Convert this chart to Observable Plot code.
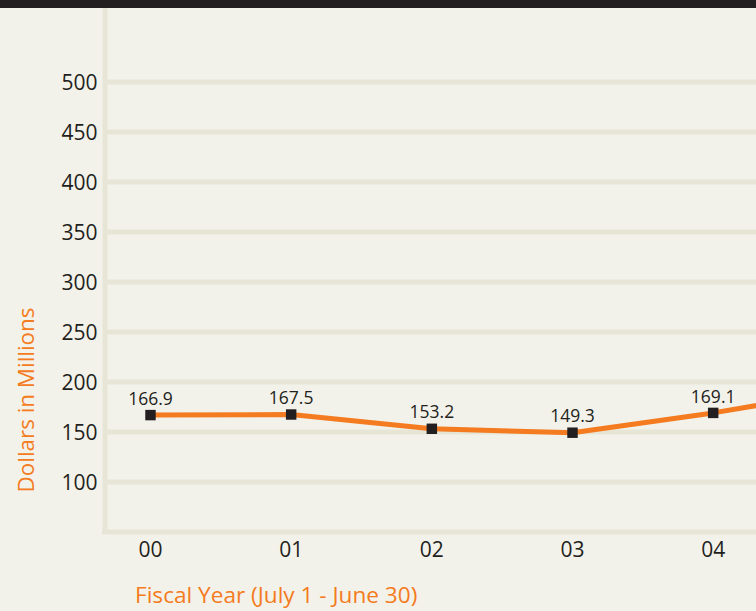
<!DOCTYPE html>
<html><head><meta charset="utf-8">
<script src="https://cdn.jsdelivr.net/npm/d3@7"></script>
<script src="https://cdn.jsdelivr.net/npm/@observablehq/plot@0.6"></script>
<style>
html,body{margin:0;padding:0;background:#f3f2ea;}
#wrap{position:relative;width:756px;height:611px;overflow:hidden;background:#f3f2ea;}
#bar{position:absolute;left:0;top:0;width:756px;height:8px;background:#231f20;}
.title{position:absolute;font-family:"Open Sans",sans-serif;color:#f47b20;font-size:22.6px;line-height:1;white-space:nowrap;}
#xt{left:135px;top:584px;}
#yt{left:26px;top:400px;font-size:22.4px;transform:translate(-50%,-50%) rotate(-90deg);}
#chart{position:absolute;left:0;top:0;}
</style></head>
<body>
<div id="wrap">
  <div id="chart"></div>
  <div id="bar"></div>
  <div class="title" id="yt">Dollars in Millions</div>
  <div class="title" id="xt">Fiscal Year (July 1 - June 30)</div>
</div>
<script>
const years = ["00", "01", "02", "03", "04", "05"];
const values = [166.9, 167.5, 153.2, 149.3, 169.1, 193];
const labeledCount = 5;
const yTicks = [100, 150, 200, 250, 300, 350, 400, 450, 500];
const yMin = 50, yMax = 581.5;
const xMin = -0.3234, xMax = 4.308;

const data = years.map((y, i) => ({i, year: y, value: values[i]}));
const grid = "#e7e5d5";

const chart = Plot.plot({
  width: 756, height: 611,
  marginLeft: 104.5, marginRight: 0, marginTop: 0, marginBottom: 79.5,
  style: {background: "transparent", fontFamily: "'Open Sans', sans-serif", fontSize: "21px", color: "#231f20"},
  x: {type: "linear", domain: [xMin, xMax]},
  y: {domain: [yMin, yMax]},
  marks: [
    Plot.ruleY(yTicks, {stroke: grid, strokeWidth: 5}),
    Plot.ruleY([yMin], {stroke: grid, strokeWidth: 5, strokeLinecap: "square"}),
    Plot.ruleX([xMin], {stroke: grid, strokeWidth: 5, strokeLinecap: "square"}),
    Plot.axisY(yTicks, {tickSize: 0, tickPadding: 7.5, label: null, fill: "#231f20", dy: 1.5}),
    Plot.axisX(d3.range(labeledCount), {tickSize: 0, tickPadding: 10, label: null, fill: "#231f20", tickFormat: i => years[i]}),
    Plot.line(data, {x: "i", y: "value", stroke: "#f47b20", strokeWidth: 5}),
    Plot.dot(data, {x: "i", y: "value", symbol: "square", r: 5.9, fill: "#231f20", stroke: "none"}),
    Plot.text(data.slice(0, labeledCount), {x: "i", y: "value", text: d => d.value.toFixed(1), dy: -16, fontSize: 17.5, fill: "#231f20"})
  ]
});
document.getElementById("chart").appendChild(chart);
</script>
</body></html>
